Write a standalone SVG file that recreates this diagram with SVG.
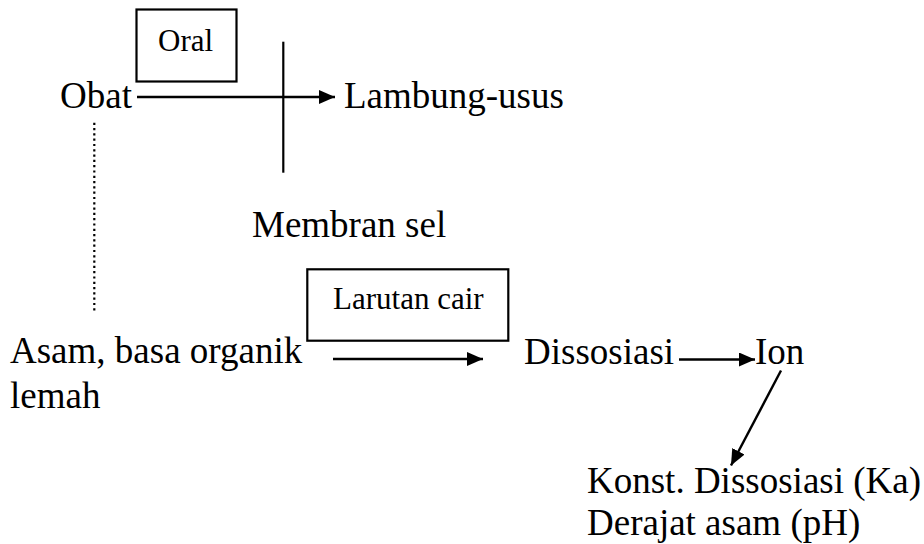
<svg xmlns="http://www.w3.org/2000/svg" width="924" height="544" viewBox="0 0 924 544">
  <defs>
    <style>
      .t { font-size: 37px; fill: #000; }
      .s { font-size: 31px; fill: #000; }
      .box { fill: none; stroke: #000; stroke-width: 2.2; }
      .ln { fill: none; stroke: #000; stroke-width: 2.2; }
      .arr { fill: none; stroke: #000; stroke-width: 2.4; marker-end: url(#ah); }
      .dot { fill: none; stroke: #000; stroke-width: 2.2; stroke-dasharray: 2.2 3.1; }
    </style>
    <marker id="ah" markerUnits="userSpaceOnUse" markerWidth="16" markerHeight="14" refX="16" refY="7" orient="auto">
      <path d="M0,0 L16,7 L0,14 z" fill="#000"/>
    </marker>
  </defs>
  <rect width="924" height="544" fill="#fff"/>

  <g id="connectors">
    <line class="arr" x1="137" y1="97" x2="335" y2="97"/>
    <line class="ln" x1="283.3" y1="41.7" x2="283.3" y2="172.7"/>
    <line class="dot" x1="94.3" y1="122.7" x2="94.3" y2="312"/>
    <line class="arr" x1="333" y1="359" x2="483" y2="359"/>
    <line class="arr" x1="679" y1="359.5" x2="755" y2="359.5"/>
    <line class="arr" x1="781" y1="370.5" x2="731" y2="465.5"/>
  </g>

  <g font-family="Liberation Serif, Times New Roman, DejaVu Serif, serif">
  <g id="obat"><text class="t" x="60" y="108">Obat</text></g>
  <g id="oral">
    <rect class="box" x="136.5" y="9.5" width="100" height="72"/>
    <text class="s" x="158" y="51">Oral</text>
  </g>
  <g id="lambung"><text class="t" x="344" y="108">Lambung-usus</text></g>
  <g id="membran"><text class="t" x="252" y="237">Membran sel</text></g>
  <g id="larutan">
    <rect class="box" x="307.3" y="269.3" width="201" height="71.4"/>
    <text class="s" x="333" y="309">Larutan cair</text>
  </g>
  <g id="asam">
    <text class="t" x="10" y="363">Asam, basa organik</text>
    <text class="t" x="10" y="408">lemah</text>
  </g>
  <g id="dissosiasi"><text class="t" x="524" y="364">Dissosiasi</text></g>
  <g id="ion"><text class="t" x="755" y="364">Ion</text></g>
  <g id="konst">
    <text class="t" x="587" y="493">Konst. Dissosiasi (Ka)</text>
    <text class="t" x="587" y="535">Derajat asam (pH)</text>
  </g>
  </g>
</svg>
